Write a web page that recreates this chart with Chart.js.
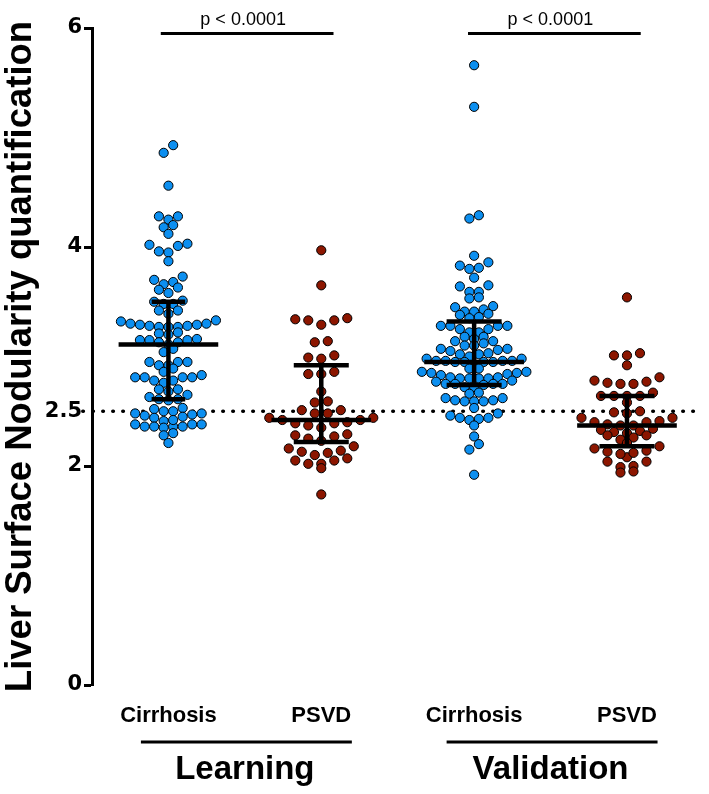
<!DOCTYPE html>
<html><head><meta charset="utf-8">
<script src="https://cdn.jsdelivr.net/npm/chart.js@4/dist/chart.umd.min.js"></script>
<style>html,body{margin:0;padding:0;background:#fff}#wrap{width:709px;height:794px;position:relative}</style>
</head><body><div id="wrap"><canvas id="c"></canvas></div>
<script>
const categories = ['Cirrhosis','PSVD','Cirrhosis','PSVD'];
const groups = ['Learning','Validation'];
const yTicks = [0, 2, 2.5, 4, 6];
const cutoff = 2.5;
const pLabels = ['p < 0.0001', 'p < 0.0001'];
const learningCirrhosis = [4.93,4.86,4.56,4.28,4.25,4.28,4.18,4.20,4.12,4.02,4.01,4.03,3.96,3.95,3.87,
  3.73,3.70,3.66,3.68,3.63,3.61,3.58,3.48,3.48,3.50,3.51,3.39,3.42,3.42,
  3.30,3.27,3.28,3.33,3.28,3.29,3.29,3.27,3.27,3.30,3.32,3.22,3.20,3.21,
  3.15,3.13,3.11,3.13,3.16,3.15,3.15,3.07,3.04,2.95,2.95,2.95,2.92,2.92,2.89,2.86,
  2.81,2.81,2.78,2.81,2.83,2.78,2.81,2.76,2.70,2.70,2.68,2.65,2.61,2.61,2.63,2.60,
  2.52,2.53,2.50,2.48,2.50,2.48,2.44,2.46,2.47,2.45,
  2.36,2.38,2.42,2.36,2.41,2.36,2.38,2.35,2.36,2.38,2.30,2.28,2.21];
const learningPSVD = [3.97,3.65,3.33,3.35,3.29,3.33,3.34,3.14,3.13,3.01,2.99,2.98,2.86,2.84,2.84,
  2.68,2.58,2.59,2.51,2.51,2.48,2.42,2.44,2.44,2.48,2.39,2.37,2.39,2.42,2.40,2.35,
  2.27,2.28,2.29,2.25,2.18,2.23,2.16,2.12,2.14,2.10,2.13,2.07,2.02,2.05,2.05,2.02,1.98,1.74];
const validationCirrhosis = [5.66,5.28,4.26,4.29,3.92,3.86,3.83,3.80,3.81,3.72,3.65,3.64,3.59,3.59,3.54,3.53,
  3.45,3.43,3.46,3.41,3.39,3.41,3.36,3.35,3.38,3.25,3.28,3.28,3.28,3.25,3.22,3.28,3.22,
  3.18,3.18,3.14,3.14,3.16,3.12,3.10,3.10,3.07,3.07,3.05,3.06,3.02,3.03,3.02,3.00,
  2.95,2.96,2.96,2.95,2.98,2.95,2.96,2.93,2.96,2.95,2.98,2.89,2.85,2.85,2.86,2.86,2.84,2.89,
  2.81,2.83,2.81,2.80,2.80,2.80,2.80,2.75,2.77,2.75,2.78,2.75,2.75,2.72,2.72,2.74,
  2.66,2.67,2.62,2.62,2.59,2.59,2.59,2.60,2.60,2.53,2.43,2.44,2.46,2.42,2.48,2.44,
  2.37,2.27,2.20,2.15,1.92];
const validationPSVD = [3.54,3.01,3.01,3.03,2.92,2.81,2.75,2.75,2.77,2.78,2.76,2.64,2.64,2.64,2.67,2.64,
  2.58,2.49,2.50,2.48,2.40,2.44,2.41,2.37,2.44,2.37,2.38,2.40,2.31,2.33,2.34,2.30,2.32,
  2.28,2.26,2.24,2.28,2.18,2.21,2.16,2.14,2.08,2.12,2.13,2.11,2.04,2.00,2.04,1.99,1.94,1.95];
const medians = [3.11, 2.42, 2.95, 2.37];
const q1 = [2.61, 2.22, 2.74, 2.18];
const q3 = [3.50, 2.92, 3.32, 2.64];

const series = [learningCirrhosis, learningPSVD, validationCirrhosis, validationPSVD];
const fills = ['#0c8ff0', '#8c1600', '#0c8ff0', '#8c1600'];
const colStep = [9.5, 13.0, 9.5, 13.0];   // horizontal spacing of points in a row (px)
const rowHeight = [9.5, 10.5, 8.0, 9.5];  // max vertical extent of one row (px)
const capHalf = [0.11, 0.18, 0.18, 0.18];
const medHalf = 0.326;

function barData(i) {
  const c = i + 1, cw = capHalf[i];
  return [
    {x: c - medHalf, y: medians[i]}, {x: c + medHalf, y: medians[i]}, {x: c, y: null},
    {x: c - cw, y: q3[i]}, {x: c + cw, y: q3[i]}, {x: c, y: null},
    {x: c - cw, y: q1[i]}, {x: c + cw, y: q1[i]}, {x: c, y: null},
    {x: c, y: q1[i]}, {x: c, y: q3[i]}
  ];
}

const datasets = [];
series.forEach((vals, i) => {
  datasets.push({
    label: categories[i], data: vals.map(v => ({x: i + 1, y: v})),
    pointRadius: 4.6, pointBackgroundColor: fills[i], pointBorderColor: '#000',
    pointBorderWidth: 1, showLine: false, order: 2
  });
});
series.forEach((vals, i) => {
  datasets.push({
    label: 'bar' + i, data: barData(i), showLine: true, spanGaps: false,
    pointRadius: 0, borderColor: '#000', borderWidth: 4.5, borderCapStyle: 'butt', order: 0
  });
});
datasets.push({
  label: 'cutoff', data: [{x: 0.44, y: cutoff}, {x: 4.48, y: cutoff}], showLine: true,
  pointRadius: 0, borderColor: '#000', borderWidth: 3.6, borderDash: [0.5, 9.5],
  borderCapStyle: 'round', clip: false, order: 3
});
const pLines = [[0.95, 2.08], [2.96, 4.09]];
pLines.forEach((pl, k) => {
  datasets.push({
    label: 'p' + k, data: [{x: pl[0], y: 5.95}, {x: pl[1], y: 5.95}], showLine: true,
    pointRadius: 0, borderColor: '#000', borderWidth: 3, clip: false, order: 0
  });
});

const groupLines = [[0.82, 2.2], [2.82, 4.2]];
const annot = {
  id: 'annot',
  afterDatasetsDraw(chart) {
    const ctx = chart.ctx, xs = chart.scales.x, ys = chart.scales.y;
    ctx.save();
    ctx.fillStyle = '#000';
    ctx.font = '18px "Liberation Sans", Arial, sans-serif';
    ctx.textAlign = 'center'; ctx.textBaseline = 'alphabetic';
    pLines.forEach((pl, k) => {
      const cx = (xs.getPixelForValue(pl[0]) + xs.getPixelForValue(pl[1])) / 2 - 4;
      ctx.fillText(pLabels[k], cx, ys.getPixelForValue(5.95) - 8);
    });
    ctx.strokeStyle = '#000'; ctx.lineWidth = 3;
    groupLines.forEach(gl => {
      ctx.beginPath();
      ctx.moveTo(xs.getPixelForValue(gl[0]), 742);
      ctx.lineTo(xs.getPixelForValue(gl[1]), 742);
      ctx.stroke();
    });
    ctx.restore();
  }
};

const chart = new Chart(document.getElementById('c'), {
  type: 'scatter',
  data: {datasets},
  options: {
    responsive: true, maintainAspectRatio: false, animation: false,
    layout: {padding: {left: 0, right: 5, top: 28, bottom: 0}},
    plugins: {legend: {display: false}, tooltip: {enabled: false}},
    scales: {
      x: {
        type: 'linear', min: 0.5, max: 4.5, position: 'bottom', weight: 0,
        grid: {display: false, drawTicks: false}, border: {display: false},
        afterBuildTicks: s => { s.ticks = [1, 2, 3, 4].map(v => ({value: v})); },
        afterFit: s => { s.height = 47; },
        ticks: {
          autoSkip: false, maxRotation: 0, padding: 18, color: '#000',
          font: {family: '"Liberation Sans", Arial, sans-serif', size: 22, weight: 'bold'},
          callback: v => categories[Math.round(v) - 1]
        }
      },
      x2: {
        type: 'linear', min: 0.5, max: 4.5, position: 'bottom', weight: 1,
        grid: {display: false, drawTicks: false}, border: {display: false},
        afterBuildTicks: s => { s.ticks = [1.5, 3.5].map(v => ({value: v})); },
        afterFit: s => { s.height = 62; },
        ticks: {
          autoSkip: false, maxRotation: 0, padding: 18, color: '#000',
          font: {family: '"Liberation Sans", Arial, sans-serif', size: 33, weight: 'bold'},
          callback: v => groups[v < 2.5 ? 0 : 1]
        }
      },
      y: {
        type: 'linear', min: 0, max: 6,
        afterBuildTicks: s => { s.ticks = yTicks.map(v => ({value: v})); },
        afterFit: s => { s.width = 92; },
        border: {display: true, color: '#000', width: 3},
        grid: {drawOnChartArea: false, drawTicks: true, tickLength: 8, tickWidth: 3,
          tickColor: c => (c.tick && c.tick.value === cutoff) ? 'rgba(0,0,0,0)' : '#000'},
        ticks: {
          padding: 2, color: '#000', autoSkip: false,
          font: {family: '"DejaVu Sans", sans-serif', size: 21, weight: 'bold'},
          callback: v => String(v)
        },
        title: {
          display: true, text: 'Liver Surface Nodularity quantification', color: '#000',
          padding: {top: 3, bottom: 0},
          font: {family: '"Liberation Sans", Arial, sans-serif', size: 36.5, weight: 'bold', lineHeight: 1}
        }
      }
    }
  },
  plugins: [annot]
});

// dot-plot layout: sorted values are split into rows at their largest gaps until each row
// is thinner than the band; every row is centred on its category
function rowLayout(vals, step, band, yPix) {
  const order = vals.map((v, i) => i).sort((a, b) => vals[a] - vals[b]);
  const py = order.map(i => yPix(vals[i]));
  const rows = [];
  const split = (a, b) => {
    if (a === b || Math.abs(py[b] - py[a]) < band) { rows.push([a, b]); return; }
    const mid = (py[a] + py[b]) / 2;
    let best = a, bestGap = -1, bestDist = Infinity;
    for (let k = a; k < b; k++) {
      const g = Math.abs(py[k + 1] - py[k]);
      const d = Math.abs((py[k + 1] + py[k]) / 2 - mid);
      if (g > bestGap + 1e-6 || (Math.abs(g - bestGap) <= 1e-6 && d < bestDist)) {
        best = k; bestGap = g; bestDist = d;
      }
    }
    split(a, best); split(best + 1, b);
  };
  split(0, order.length - 1);
  const offs = new Array(vals.length);
  rows.forEach(([a, b]) => {
    const n = b - a + 1, slots = [];
    for (let k = 0; k < n; k++) slots.push((k - (n - 1) / 2) * step);
    slots.sort((p, q) => Math.abs(p) - Math.abs(q) || p - q);
    for (let k = 0; k < n; k++) offs[order[a + k]] = slots[k];
  });
  return offs;
}
const xs = chart.scales.x, ys = chart.scales.y;
const pxPerUnit = xs.getPixelForValue(2) - xs.getPixelForValue(1);
series.forEach((vals, i) => {
  const offs = rowLayout(vals, colStep[i], rowHeight[i], v => ys.getPixelForValue(v));
  chart.data.datasets[i].data = vals.map((v, j) => ({x: i + 1 + offs[j] / pxPerUnit, y: v}));
});
chart.update();
</script></body></html>
